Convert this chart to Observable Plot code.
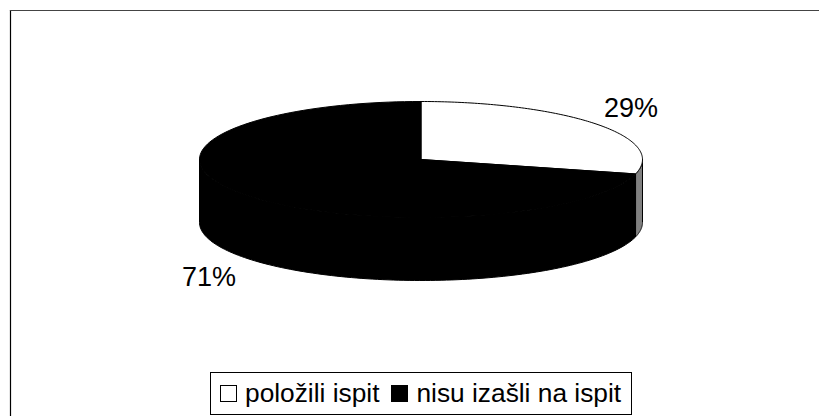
<!DOCTYPE html>
<html>
<head>
<meta charset="utf-8">
<script src="https://cdn.jsdelivr.net/npm/d3@7"></script>
<script src="https://cdn.jsdelivr.net/npm/@observablehq/plot@0.6"></script>
<style>
html,body{margin:0;padding:0;background:#fff;}
#wrap{position:relative;width:819px;height:416px;overflow:hidden;font-family:"Liberation Sans",Arial,sans-serif;}
#legend{position:absolute;left:210px;top:372px;width:422px;height:43px;box-sizing:border-box;border:1.5px solid #000;background:#fff;display:flex;align-items:center;padding:0 0 0 9px;font-size:26.3px;color:#000;white-space:nowrap;}
#legend .sw{display:inline-block;width:17px;height:17px;box-sizing:border-box;border:1.5px solid #000;margin-right:8px;}
#legend .it{display:flex;align-items:center;margin-right:12px;}
#legend .it:last-child{margin-right:0;}
</style>
</head>
<body>
<div id="wrap"><div id="legend"></div></div>
<script>
const categories = ["položili ispit", "nisu izašli na ispit"];
const shares = [29, 71];
const sliceColors = ["#ffffff", "#000000"];
const sideColors = ["#808080", "#000000"];

const W = 819, H = 416, cx = 420.5, cy = 159, rx = 221.5, ry = 58, depthPx = 63;
const depth = depthPx / ry;

const total = d3.sum(shares);
let acc = 0;
const slices = shares.map((v, i) => {
  const a0 = acc / total * 2 * Math.PI; acc += v;
  return {a0, a1: acc / total * 2 * Math.PI, i};
});
const pt = (a, d = 0) => ({x: Math.sin(a), y: -Math.cos(a) + d});
const arc = (a0, a1, d = 0) => d3.range(0, 121).map(k => pt(a0 + (a1 - a0) * k / 120, d));

// top faces
const tops = slices.map(s => [{x: 0, y: 0}, ...arc(s.a0, s.a1), {x: 0, y: 0}]);
// side walls: only the front half (angles 90 to 270 degrees) is visible
const sides = slices.map(s => {
  const a0 = Math.max(s.a0, Math.PI / 2), a1 = Math.min(s.a1, 3 * Math.PI / 2);
  if (a1 <= a0) return [];
  const top = arc(a0, a1), bot = arc(a0, a1, depth).reverse();
  return [...top, ...bot, top[0]];
});

const labels = slices.map((s, i) => {
  const m = (s.a0 + s.a1) / 2, p = pt(m, i === 1 ? depth : 0);
  return {...p, text: shares[i] + "%"};
});

const plot = Plot.plot({
  width: W, height: H,
  margin: 0,
  marginLeft: 10, marginTop: 10, marginRight: 0, marginBottom: 0,
  x: {domain: [(10 - cx) / rx, (W - cx) / rx], range: [10, W], axis: null},
  y: {domain: [(10 - cy) / ry, (H - cy) / ry], range: [10, H], axis: null},
  marks: [
    Plot.frame({anchor: "left", stroke: "#000", strokeWidth: 1.2}),
    Plot.frame({anchor: "top", stroke: "#444", strokeWidth: 1.2}),
    ...sides.map((d, i) => Plot.line(d, {x: "x", y: "y", fill: sideColors[i], stroke: "#000", strokeWidth: 1, curve: "linear"})),
    ...tops.map((d, i) => Plot.line(d, {x: "x", y: "y", fill: sliceColors[i], stroke: "#000", strokeWidth: 1, curve: "linear"})),
    Plot.text([labels[0]], {x: "x", y: "y", text: "text", dx: 35, dy: -16, fontSize: 27, fill: "#000", fontFamily: "Liberation Sans"}),
    Plot.text([labels[1]], {x: "x", y: "y", text: "text", dx: -37, dy: 19, fontSize: 27, fill: "#000", fontFamily: "Liberation Sans"})
  ]
});
const wrap = document.getElementById("wrap");
wrap.insertBefore(plot, wrap.firstChild);

const legend = document.getElementById("legend");
categories.forEach((c, i) => {
  const it = document.createElement("span"); it.className = "it";
  const sw = document.createElement("span"); sw.className = "sw"; sw.style.background = sliceColors[i];
  it.appendChild(sw); it.appendChild(document.createTextNode(c));
  legend.appendChild(it);
});
</script>
</body>
</html>
